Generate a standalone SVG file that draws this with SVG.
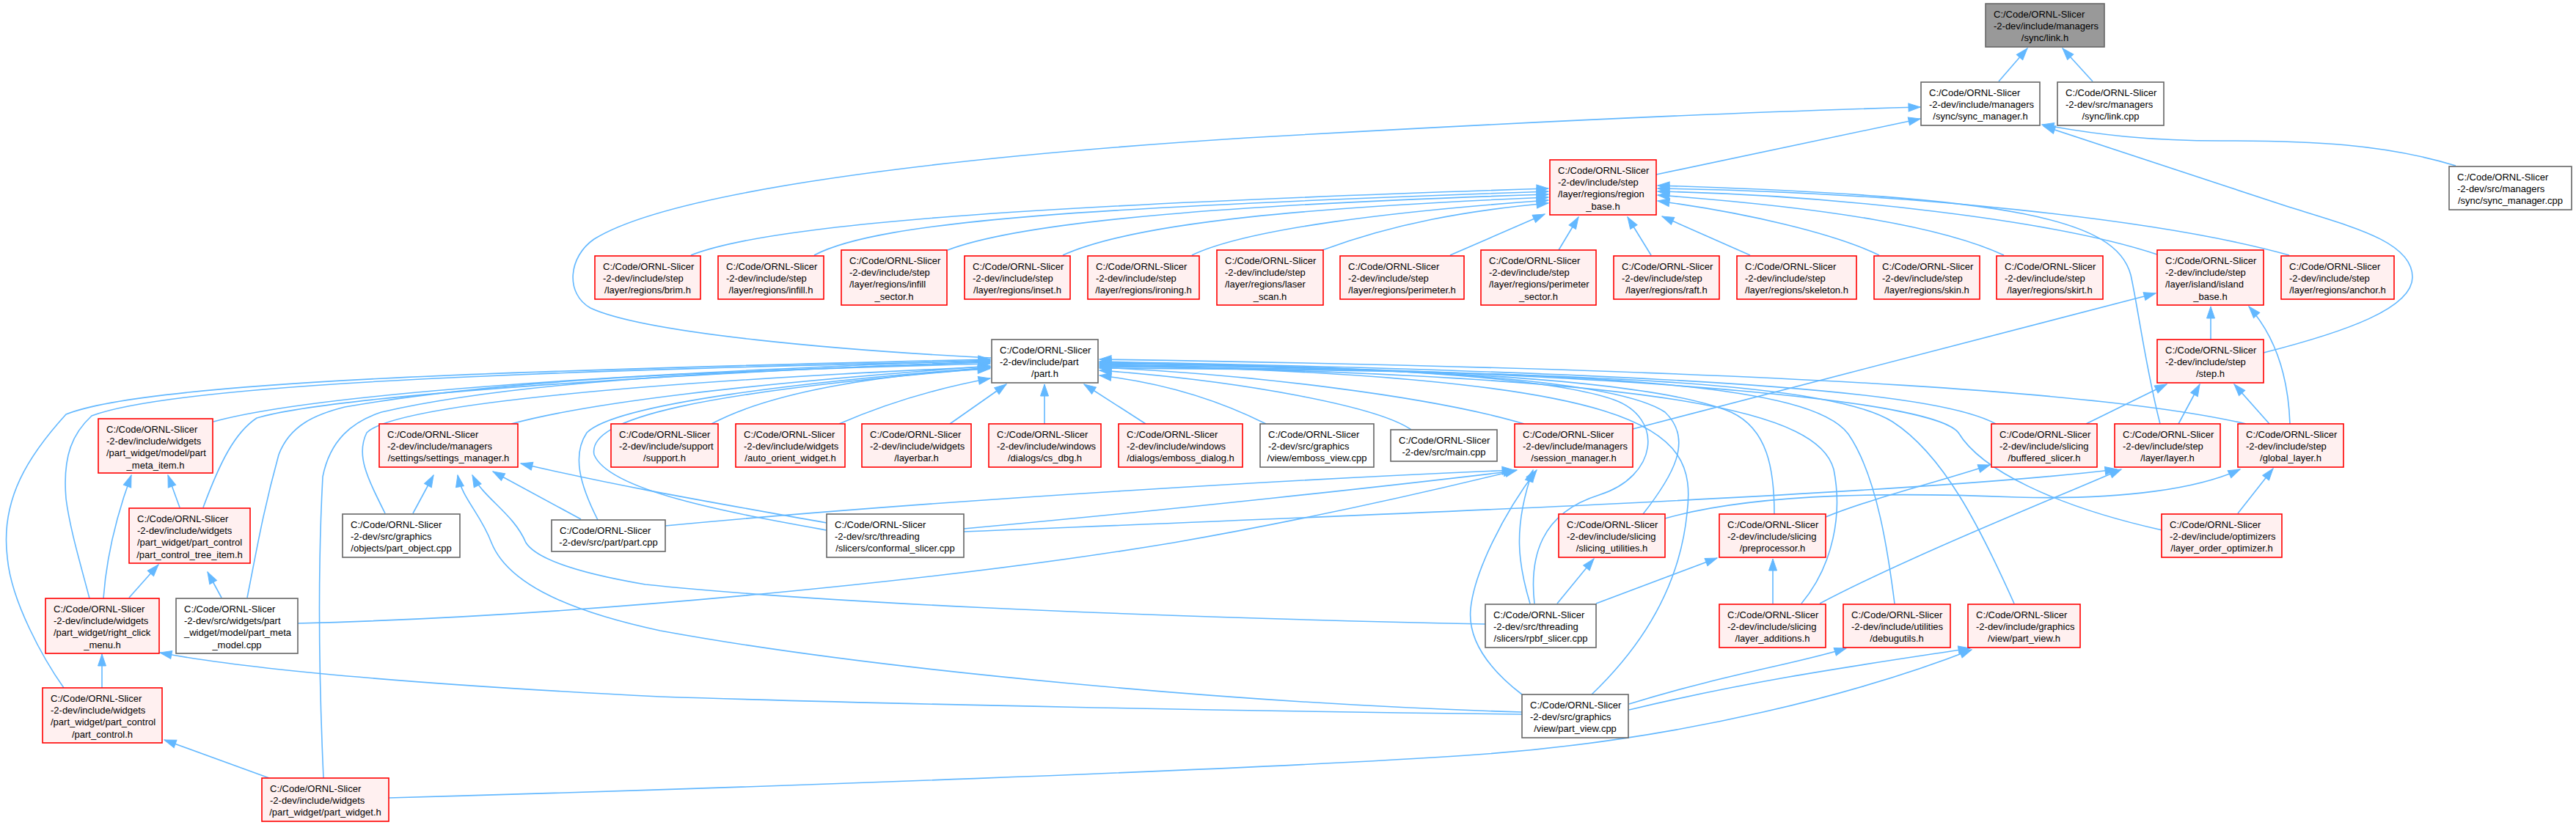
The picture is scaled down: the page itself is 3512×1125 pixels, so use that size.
<svg xmlns="http://www.w3.org/2000/svg" width="3512" height="1125" viewBox="0 0 3512 1125">
<defs>
<marker id="ah" markerWidth="16" markerHeight="12" refX="16" refY="6" orient="auto" markerUnits="userSpaceOnUse" overflow="visible"><path d="M0,0.5 L16,6 L0,11.5 Z" fill="#63b8ff" stroke="#63b8ff" stroke-width="1"/></marker>
<style>
.e path{fill:none;stroke:#63b8ff;stroke-width:1.6;marker-end:url(#ah)}
.n rect{stroke-width:1.6}
.r rect{fill:#fff0f0;stroke:#ff0000}
.w rect{fill:#fff;stroke:#666}
.g rect{fill:#999;stroke:#666}
text{font-family:"Liberation Sans",Arial,Helvetica,sans-serif;font-size:13px;fill:#000}
.c{text-anchor:middle}
</style>
</defs>
<rect width="3512" height="1125" fill="#fff"/>
<g id="connectors" class="e">
<path d="M2725,111 L2764,66"/>
<path d="M2853,111 L2812,66"/>
<path d="M3348,226 C3250,196 3150,192 3030,192 C2930,192 2860,184 2784,170"/>
<path d="M3086,481 C3200,452 3289,420 3289,378 C3289,330 3210,310 3120,282 L2786,172"/>
<path d="M2258,238 L2618,162"/>
<path d="M1351,488 C1150,478 880,455 805,420 C770,400 775,350 810,326 C900,270 1200,220 1700,188 C2100,165 2400,152 2618,146"/>
<path d="M942,348 C1050,305 1400,280 2111,257"/>
<path d="M1110,348 C1200,300 1500,282 2111,261"/>
<path d="M1292,341 C1400,300 1700,278 2111,265"/>
<path d="M1449,348 C1550,302 1800,282 2111,269"/>
<path d="M1625,348 C1700,312 1900,288 2111,273"/>
<path d="M1803,341 C1900,305 2000,287 2111,277"/>
<path d="M1977,348 L2106,292"/>
<path d="M2125,341 L2152,296"/>
<path d="M2251,348 L2219,296"/>
<path d="M2386,348 L2266,295"/>
<path d="M2562,348 C2500,318 2380,290 2260,274"/>
<path d="M2732,348 C2650,310 2500,284 2260,266"/>
<path d="M2941,347 C2800,300 2500,266 2260,261"/>
<path d="M3121,348 C2950,300 2600,262 2260,257"/>
<path d="M2945,578 C2925,500 2915,420 2905,375 C2885,300 2750,268 2260,253"/>
<path d="M3014,463 L3014,418"/>
<path d="M3122,578 C3120,520 3105,462 3066,418"/>
<path d="M2226,585 L2939,400"/>
<path d="M2844,578 L2954,524"/>
<path d="M2970,578 L2999,524"/>
<path d="M3094,578 L3046,524"/>
<path d="M3051,700 L3099,639"/>
<path d="M2270,707 C2400,670 2600,672 2750,678 C2900,682 3000,665 3054,640"/>
<path d="M1314,725 C1800,705 2600,675 2886,640"/>
<path d="M2481,823 C2600,760 2800,680 2892,640"/>
<path d="M2489,705 C2550,680 2650,655 2713,634"/>
<path d="M2176,823 L2341,761"/>
<path d="M2417,823 L2417,762"/>
<path d="M2123,823 L2173,762"/>
<path d="M907,717 C1300,680 1800,652 2064,641"/>
<path d="M1314,721 C1600,695 1900,662 2066,642"/>
<path d="M406,850 C800,840 1300,790 1600,740 C1800,705 1950,670 2068,641"/>
<path d="M2075,947 C2040,920 2000,880 2005,830 C2010,780 2050,700 2095,641"/>
<path d="M2086,823 C2070,770 2062,720 2090,641"/>
<path d="M2221,968 C2400,925 2550,905 2686,884"/>
<path d="M530,1088 C1000,1075 1700,1050 2000,1030 C2300,1010 2550,940 2688,886"/>
<path d="M2221,960 C2350,920 2450,905 2517,884"/>
<path d="M563,700 L591,648"/>
<path d="M2075,971 C1700,960 1200,915 900,860 C760,830 690,790 670,740 C655,700 630,680 624,648"/>
<path d="M2025,851 C1500,840 1100,820 880,797 C780,780 730,760 717,740 C700,700 660,680 644,648"/>
<path d="M792,708 L672,643"/>
<path d="M1127,713 C1000,690 850,665 710,632"/>
<path d="M141,816 C145,760 160,700 179,648"/>
<path d="M245,692 L229,648"/>
<path d="M176,815 L216,770"/>
<path d="M302,815 L283,780"/>
<path d="M139,938 L139,892"/>
<path d="M2075,974 C1700,970 1200,960 900,950 C600,935 350,915 218,890"/>
<path d="M367,1061 L224,1009"/>
<path d="M87,938 C60,900 15,820 10,760 C0,680 40,620 90,565 C200,520 700,505 1350,490"/>
<path d="M122,816 C110,770 95,720 90,680 C85,620 100,590 125,567 C250,520 800,505 1350,492"/>
<path d="M441,1061 C436,950 432,800 440,650 C450,600 480,575 520,562 C700,520 1000,505 1350,494"/>
<path d="M337,815 C350,750 358,700 380,620 C395,580 430,565 470,555 C700,515 1000,505 1350,496"/>
<path d="M277,692 C300,630 320,590 350,570 C450,540 900,510 1350,493"/>
<path d="M291,575 C400,545 700,515 1350,491"/>
<path d="M697,578 C800,550 1000,525 1350,499"/>
<path d="M525,700 C500,650 485,620 500,590 C540,550 900,520 1350,500"/>
<path d="M815,709 C790,660 780,620 800,590 C840,550 1100,520 1350,501"/>
<path d="M1127,723 C1000,700 830,670 810,620 C800,570 950,535 1350,502"/>
<path d="M970,578 C1050,535 1200,510 1349,503"/>
<path d="M1144,578 C1220,545 1290,527 1350,516"/>
<path d="M1295,578 L1372,524"/>
<path d="M1424,578 L1424,524"/>
<path d="M1562,578 L1478,524"/>
<path d="M1726,578 C1650,540 1570,520 1499,512"/>
<path d="M1924,586 C1880,555 1700,520 1499,505"/>
<path d="M2078,578 C1950,540 1700,510 1499,501"/>
<path d="M3062,578 C2900,540 2500,505 1499,490"/>
<path d="M2721,578 C2650,540 2400,510 1499,493"/>
<path d="M2948,723 C2800,690 2700,640 2670,590 C2640,550 2300,510 1499,494"/>
<path d="M2092,823 C2085,760 2100,700 2180,675 C2260,650 2270,570 2200,545 C2100,510 1800,497 1499,495"/>
<path d="M2240,701 C2280,650 2310,600 2270,562 C2200,515 1900,500 1499,496"/>
<path d="M2170,947 C2240,880 2290,800 2300,700 C2315,580 2250,515 1499,497"/>
<path d="M2419,701 C2419,640 2410,585 2360,562 C2250,515 1900,500 1499,498"/>
<path d="M2456,823 C2500,770 2512,700 2500,640 C2480,565 2300,512 1499,499"/>
<path d="M2583,823 C2575,760 2560,650 2520,592 C2470,525 2200,505 1499,500"/>
<path d="M2746,823 C2700,720 2650,620 2580,575 C2500,525 2200,505 1499,502"/>
</g>
<g id="link_h" class="n g" transform="translate(2707,5)"><rect width="162" height="59"/><text x="11" y="18.7">C:/Code/ORNL-Slicer</text><text x="11" y="35">-2-dev/include/managers</text><text class="c" x="81" y="51.3">/sync/link.h</text></g>
<g id="sync_manager_h" class="n w" transform="translate(2619,112)"><rect width="162" height="59"/><text x="11" y="18.7">C:/Code/ORNL-Slicer</text><text x="11" y="35">-2-dev/include/managers</text><text class="c" x="81" y="51.3">/sync/sync_manager.h</text></g>
<g id="link_cpp" class="n w" transform="translate(2805,112)"><rect width="145" height="59"/><text x="11" y="18.7">C:/Code/ORNL-Slicer</text><text x="11" y="35">-2-dev/src/managers</text><text class="c" x="72.5" y="51.3">/sync/link.cpp</text></g>
<g id="region_base_h" class="n r" transform="translate(2113,218)"><rect width="145" height="75"/><text x="11" y="18.7">C:/Code/ORNL-Slicer</text><text x="11" y="35">-2-dev/include/step</text><text x="11" y="51.3">/layer/regions/region</text><text class="c" x="72.5" y="67.6">_base.h</text></g>
<g id="sync_manager_cpp" class="n w" transform="translate(3339,227)"><rect width="167" height="59"/><text x="11" y="18.7">C:/Code/ORNL-Slicer</text><text x="11" y="35">-2-dev/src/managers</text><text class="c" x="83.5" y="51.3">/sync/sync_manager.cpp</text></g>
<g id="brim_h" class="n r" transform="translate(811,349)"><rect width="144" height="59"/><text x="11" y="18.7">C:/Code/ORNL-Slicer</text><text x="11" y="35">-2-dev/include/step</text><text class="c" x="72" y="51.3">/layer/regions/brim.h</text></g>
<g id="infill_h" class="n r" transform="translate(979,349)"><rect width="144" height="59"/><text x="11" y="18.7">C:/Code/ORNL-Slicer</text><text x="11" y="35">-2-dev/include/step</text><text class="c" x="72" y="51.3">/layer/regions/infill.h</text></g>
<g id="infill_sector_h" class="n r" transform="translate(1147,341)"><rect width="144" height="75"/><text x="11" y="18.7">C:/Code/ORNL-Slicer</text><text x="11" y="35">-2-dev/include/step</text><text x="11" y="51.3">/layer/regions/infill</text><text class="c" x="72" y="67.6">_sector.h</text></g>
<g id="inset_h" class="n r" transform="translate(1315,349)"><rect width="144" height="59"/><text x="11" y="18.7">C:/Code/ORNL-Slicer</text><text x="11" y="35">-2-dev/include/step</text><text class="c" x="72" y="51.3">/layer/regions/inset.h</text></g>
<g id="ironing_h" class="n r" transform="translate(1483,349)"><rect width="152" height="59"/><text x="11" y="18.7">C:/Code/ORNL-Slicer</text><text x="11" y="35">-2-dev/include/step</text><text class="c" x="76" y="51.3">/layer/regions/ironing.h</text></g>
<g id="laser_scan_h" class="n r" transform="translate(1659,341)"><rect width="145" height="75"/><text x="11" y="18.7">C:/Code/ORNL-Slicer</text><text x="11" y="35">-2-dev/include/step</text><text x="11" y="51.3">/layer/regions/laser</text><text class="c" x="72.5" y="67.6">_scan.h</text></g>
<g id="perimeter_h" class="n r" transform="translate(1827,349)"><rect width="169" height="59"/><text x="11" y="18.7">C:/Code/ORNL-Slicer</text><text x="11" y="35">-2-dev/include/step</text><text class="c" x="84.5" y="51.3">/layer/regions/perimeter.h</text></g>
<g id="perimeter_sector_h" class="n r" transform="translate(2019,341)"><rect width="157" height="75"/><text x="11" y="18.7">C:/Code/ORNL-Slicer</text><text x="11" y="35">-2-dev/include/step</text><text x="11" y="51.3">/layer/regions/perimeter</text><text class="c" x="78.5" y="67.6">_sector.h</text></g>
<g id="raft_h" class="n r" transform="translate(2200,349)"><rect width="144" height="59"/><text x="11" y="18.7">C:/Code/ORNL-Slicer</text><text x="11" y="35">-2-dev/include/step</text><text class="c" x="72" y="51.3">/layer/regions/raft.h</text></g>
<g id="skeleton_h" class="n r" transform="translate(2368,349)"><rect width="163" height="59"/><text x="11" y="18.7">C:/Code/ORNL-Slicer</text><text x="11" y="35">-2-dev/include/step</text><text class="c" x="81.5" y="51.3">/layer/regions/skeleton.h</text></g>
<g id="skin_h" class="n r" transform="translate(2555,349)"><rect width="144" height="59"/><text x="11" y="18.7">C:/Code/ORNL-Slicer</text><text x="11" y="35">-2-dev/include/step</text><text class="c" x="72" y="51.3">/layer/regions/skin.h</text></g>
<g id="skirt_h" class="n r" transform="translate(2722,349)"><rect width="145" height="59"/><text x="11" y="18.7">C:/Code/ORNL-Slicer</text><text x="11" y="35">-2-dev/include/step</text><text class="c" x="72.5" y="51.3">/layer/regions/skirt.h</text></g>
<g id="island_base_h" class="n r" transform="translate(2941,341)"><rect width="145" height="75"/><text x="11" y="18.7">C:/Code/ORNL-Slicer</text><text x="11" y="35">-2-dev/include/step</text><text x="11" y="51.3">/layer/island/island</text><text class="c" x="72.5" y="67.6">_base.h</text></g>
<g id="anchor_h" class="n r" transform="translate(3110,349)"><rect width="154" height="59"/><text x="11" y="18.7">C:/Code/ORNL-Slicer</text><text x="11" y="35">-2-dev/include/step</text><text class="c" x="77" y="51.3">/layer/regions/anchor.h</text></g>
<g id="part_h" class="n w" transform="translate(1352,463)"><rect width="145" height="59"/><text x="11" y="18.7">C:/Code/ORNL-Slicer</text><text x="11" y="35">-2-dev/include/part</text><text class="c" x="72.5" y="51.3">/part.h</text></g>
<g id="step_h" class="n r" transform="translate(2941,463)"><rect width="145" height="59"/><text x="11" y="18.7">C:/Code/ORNL-Slicer</text><text x="11" y="35">-2-dev/include/step</text><text class="c" x="72.5" y="51.3">/step.h</text></g>
<g id="part_meta_item_h" class="n r" transform="translate(134,571)"><rect width="156" height="74"/><text x="11" y="18.7">C:/Code/ORNL-Slicer</text><text x="11" y="35">-2-dev/include/widgets</text><text x="11" y="51.3">/part_widget/model/part</text><text class="c" x="78" y="67.6">_meta_item.h</text></g>
<g id="settings_manager_h" class="n r" transform="translate(517,578)"><rect width="189" height="59"/><text x="11" y="18.7">C:/Code/ORNL-Slicer</text><text x="11" y="35">-2-dev/include/managers</text><text class="c" x="94.5" y="51.3">/settings/settings_manager.h</text></g>
<g id="support_h" class="n r" transform="translate(833,578)"><rect width="146" height="59"/><text x="11" y="18.7">C:/Code/ORNL-Slicer</text><text x="11" y="35">-2-dev/include/support</text><text class="c" x="73" y="51.3">/support.h</text></g>
<g id="auto_orient_widget_h" class="n r" transform="translate(1003,578)"><rect width="149" height="59"/><text x="11" y="18.7">C:/Code/ORNL-Slicer</text><text x="11" y="35">-2-dev/include/widgets</text><text class="c" x="74.5" y="51.3">/auto_orient_widget.h</text></g>
<g id="layerbar_h" class="n r" transform="translate(1175,578)"><rect width="149" height="59"/><text x="11" y="18.7">C:/Code/ORNL-Slicer</text><text x="11" y="35">-2-dev/include/widgets</text><text class="c" x="74.5" y="51.3">/layerbar.h</text></g>
<g id="cs_dbg_h" class="n r" transform="translate(1348,578)"><rect width="153" height="59"/><text x="11" y="18.7">C:/Code/ORNL-Slicer</text><text x="11" y="35">-2-dev/include/windows</text><text class="c" x="76.5" y="51.3">/dialogs/cs_dbg.h</text></g>
<g id="emboss_dialog_h" class="n r" transform="translate(1525,578)"><rect width="169" height="59"/><text x="11" y="18.7">C:/Code/ORNL-Slicer</text><text x="11" y="35">-2-dev/include/windows</text><text class="c" x="84.5" y="51.3">/dialogs/emboss_dialog.h</text></g>
<g id="emboss_view_cpp" class="n w" transform="translate(1718,578)"><rect width="155" height="59"/><text x="11" y="18.7">C:/Code/ORNL-Slicer</text><text x="11" y="35">-2-dev/src/graphics</text><text class="c" x="77.5" y="51.3">/view/emboss_view.cpp</text></g>
<g id="main_cpp" class="n w" transform="translate(1896,586)"><rect width="145" height="43"/><text x="11" y="18.7">C:/Code/ORNL-Slicer</text><text class="c" x="72.5" y="35">-2-dev/src/main.cpp</text></g>
<g id="session_manager_h" class="n r" transform="translate(2065,578)"><rect width="161" height="59"/><text x="11" y="18.7">C:/Code/ORNL-Slicer</text><text x="11" y="35">-2-dev/include/managers</text><text class="c" x="80.5" y="51.3">/session_manager.h</text></g>
<g id="buffered_slicer_h" class="n r" transform="translate(2715,578)"><rect width="144" height="59"/><text x="11" y="18.7">C:/Code/ORNL-Slicer</text><text x="11" y="35">-2-dev/include/slicing</text><text class="c" x="72" y="51.3">/buffered_slicer.h</text></g>
<g id="layer_h" class="n r" transform="translate(2883,578)"><rect width="144" height="59"/><text x="11" y="18.7">C:/Code/ORNL-Slicer</text><text x="11" y="35">-2-dev/include/step</text><text class="c" x="72" y="51.3">/layer/layer.h</text></g>
<g id="global_layer_h" class="n r" transform="translate(3051,578)"><rect width="144" height="59"/><text x="11" y="18.7">C:/Code/ORNL-Slicer</text><text x="11" y="35">-2-dev/include/step</text><text class="c" x="72" y="51.3">/global_layer.h</text></g>
<g id="part_control_tree_item_h" class="n r" transform="translate(176,693)"><rect width="165" height="75"/><text x="11" y="18.7">C:/Code/ORNL-Slicer</text><text x="11" y="35">-2-dev/include/widgets</text><text x="11" y="51.3">/part_widget/part_control</text><text class="c" x="82.5" y="67.6">/part_control_tree_item.h</text></g>
<g id="part_object_cpp" class="n w" transform="translate(467,701)"><rect width="160" height="59"/><text x="11" y="18.7">C:/Code/ORNL-Slicer</text><text x="11" y="35">-2-dev/src/graphics</text><text class="c" x="80" y="51.3">/objects/part_object.cpp</text></g>
<g id="part_cpp" class="n w" transform="translate(752,709)"><rect width="155" height="43"/><text x="11" y="18.7">C:/Code/ORNL-Slicer</text><text class="c" x="77.5" y="35">-2-dev/src/part/part.cpp</text></g>
<g id="conformal_slicer_cpp" class="n w" transform="translate(1127,701)"><rect width="187" height="59"/><text x="11" y="18.7">C:/Code/ORNL-Slicer</text><text x="11" y="35">-2-dev/src/threading</text><text class="c" x="93.5" y="51.3">/slicers/conformal_slicer.cpp</text></g>
<g id="slicing_utilities_h" class="n r" transform="translate(2125,701)"><rect width="145" height="59"/><text x="11" y="18.7">C:/Code/ORNL-Slicer</text><text x="11" y="35">-2-dev/include/slicing</text><text class="c" x="72.5" y="51.3">/slicing_utilities.h</text></g>
<g id="preprocessor_h" class="n r" transform="translate(2344,701)"><rect width="145" height="59"/><text x="11" y="18.7">C:/Code/ORNL-Slicer</text><text x="11" y="35">-2-dev/include/slicing</text><text class="c" x="72.5" y="51.3">/preprocessor.h</text></g>
<g id="layer_order_optimizer_h" class="n r" transform="translate(2947,701)"><rect width="164" height="59"/><text x="11" y="18.7">C:/Code/ORNL-Slicer</text><text x="11" y="35">-2-dev/include/optimizers</text><text class="c" x="82" y="51.3">/layer_order_optimizer.h</text></g>
<g id="right_click_menu_h" class="n r" transform="translate(62,816)"><rect width="155" height="75"/><text x="11" y="18.7">C:/Code/ORNL-Slicer</text><text x="11" y="35">-2-dev/include/widgets</text><text x="11" y="51.3">/part_widget/right_click</text><text class="c" x="77.5" y="67.6">_menu.h</text></g>
<g id="part_meta_model_cpp" class="n w" transform="translate(240,816)"><rect width="166" height="75"/><text x="11" y="18.7">C:/Code/ORNL-Slicer</text><text x="11" y="35">-2-dev/src/widgets/part</text><text x="11" y="51.3">_widget/model/part_meta</text><text class="c" x="83" y="67.6">_model.cpp</text></g>
<g id="rpbf_slicer_cpp" class="n w" transform="translate(2025,824)"><rect width="151" height="59"/><text x="11" y="18.7">C:/Code/ORNL-Slicer</text><text x="11" y="35">-2-dev/src/threading</text><text class="c" x="75.5" y="51.3">/slicers/rpbf_slicer.cpp</text></g>
<g id="layer_additions_h" class="n r" transform="translate(2344,824)"><rect width="145" height="59"/><text x="11" y="18.7">C:/Code/ORNL-Slicer</text><text x="11" y="35">-2-dev/include/slicing</text><text class="c" x="72.5" y="51.3">/layer_additions.h</text></g>
<g id="debugutils_h" class="n r" transform="translate(2513,824)"><rect width="146" height="59"/><text x="11" y="18.7">C:/Code/ORNL-Slicer</text><text x="11" y="35">-2-dev/include/utilities</text><text class="c" x="73" y="51.3">/debugutils.h</text></g>
<g id="part_view_h" class="n r" transform="translate(2683,824)"><rect width="153" height="59"/><text x="11" y="18.7">C:/Code/ORNL-Slicer</text><text x="11" y="35">-2-dev/include/graphics</text><text class="c" x="76.5" y="51.3">/view/part_view.h</text></g>
<g id="part_control_h" class="n r" transform="translate(58,938)"><rect width="163" height="75"/><text x="11" y="18.7">C:/Code/ORNL-Slicer</text><text x="11" y="35">-2-dev/include/widgets</text><text x="11" y="51.3">/part_widget/part_control</text><text class="c" x="81.5" y="67.6">/part_control.h</text></g>
<g id="part_view_cpp" class="n w" transform="translate(2075,947)"><rect width="145" height="59"/><text x="11" y="18.7">C:/Code/ORNL-Slicer</text><text x="11" y="35">-2-dev/src/graphics</text><text class="c" x="72.5" y="51.3">/view/part_view.cpp</text></g>
<g id="part_widget_h" class="n r" transform="translate(357,1061)"><rect width="173" height="59"/><text x="11" y="18.7">C:/Code/ORNL-Slicer</text><text x="11" y="35">-2-dev/include/widgets</text><text class="c" x="86.5" y="51.3">/part_widget/part_widget.h</text></g>
</svg>
